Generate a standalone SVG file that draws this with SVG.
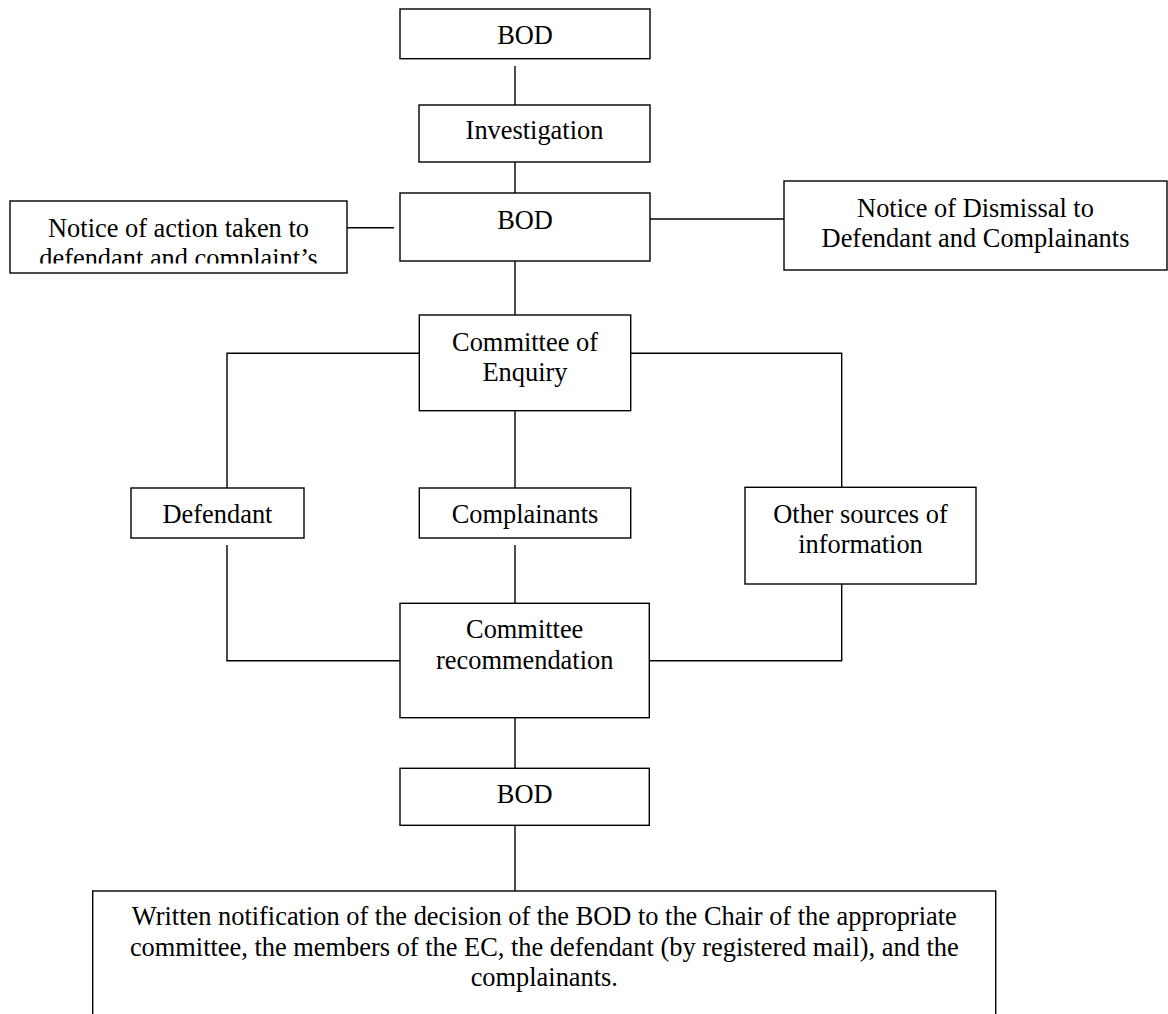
<svg xmlns="http://www.w3.org/2000/svg" width="1168" height="1014" viewBox="0 0 1168 1014">
<style>
.box{fill:#fff;stroke:#000;stroke-width:1.4}
.t{font-family:"Liberation Serif","Times New Roman",serif;font-size:26.4px;fill:#000;text-anchor:middle}
.c{fill:none;stroke:#000;stroke-width:1.4}
</style>
<defs>
<clipPath id="clipNotice"><rect x="10" y="201" width="337" height="62.5"/></clipPath>
</defs>
<rect width="1168" height="1014" fill="#fff"/>
<g id="connectors">
<path class="c" d="M515 66V105"/>
<path class="c" d="M515 162V200"/>
<path class="c" d="M347 227.7H394"/>
<path class="c" d="M650 219H784"/>
<path class="c" d="M515 257.7V315"/>
<path class="c" d="M419.3 353.3H227V488"/>
<path class="c" d="M630.7 353.3H841.7V487.3"/>
<path class="c" d="M515 410.7V488"/>
<path class="c" d="M227 545V660.7H400"/>
<path class="c" d="M515 545V603.3"/>
<path class="c" d="M841.7 584V660.7H649.3"/>
<path class="c" d="M515 717.7V768.3"/>
<path class="c" d="M515 825.3V891"/>
</g>
<g id="bod1">
<rect class="box" x="400" y="9" width="250" height="49.7"/>
<text class="t" x="525" y="44.3">BOD</text>
</g>
<g id="investigation">
<rect class="box" x="419" y="105" width="231" height="57"/>
<text class="t" x="534.5" y="139">Investigation</text>
</g>
<g id="bod2">
<rect class="box" x="400" y="193" width="250" height="68"/>
<text class="t" x="525" y="229">BOD</text>
</g>
<g id="notice-action">
<rect class="box" x="10" y="201" width="337" height="72"/>
<g clip-path="url(#clipNotice)">
<text class="t" x="178.5" y="236.7">Notice of action taken to</text>
<text class="t" x="178.5" y="267.1">defendant and complaint’s</text>
</g>
</g>
<g id="notice-dismissal">
<rect class="box" x="784" y="181" width="383" height="89"/>
<text class="t" x="975.5" y="216.7">Notice of Dismissal to</text>
<text class="t" x="975.5" y="246.7">Defendant and Complainants</text>
</g>
<g id="committee-enquiry">
<rect class="box" x="419.3" y="315" width="211.4" height="95.7"/>
<text class="t" x="525" y="350.7">Committee of</text>
<text class="t" x="525" y="381.3">Enquiry</text>
</g>
<g id="defendant">
<rect class="box" x="131" y="488" width="173" height="50"/>
<text class="t" x="217.5" y="523">Defendant</text>
</g>
<g id="complainants">
<rect class="box" x="419.3" y="488" width="211.4" height="50"/>
<text class="t" x="525" y="523">Complainants</text>
</g>
<g id="other-sources">
<rect class="box" x="745" y="487.3" width="231" height="96.7"/>
<text class="t" x="860.5" y="522.7">Other sources of</text>
<text class="t" x="860.5" y="552.9">information</text>
</g>
<g id="committee-recommendation">
<rect class="box" x="400" y="603.3" width="249.3" height="114.4"/>
<text class="t" x="524.7" y="638.3">Committee</text>
<text class="t" x="524.7" y="668.8">recommendation</text>
</g>
<g id="bod3">
<rect class="box" x="400" y="768.3" width="249.3" height="57"/>
<text class="t" x="524.7" y="802.7">BOD</text>
</g>
<g id="written-notification">
<rect class="box" x="92.7" y="891" width="903" height="140"/>
<text class="t" x="544.3" y="925">Written notification of the decision of the BOD to the Chair of the appropriate</text>
<text class="t" x="544.3" y="955.5">committee, the members of the EC, the defendant (by registered mail), and the</text>
<text class="t" x="544.3" y="986">complainants.</text>
</g>
</svg>
